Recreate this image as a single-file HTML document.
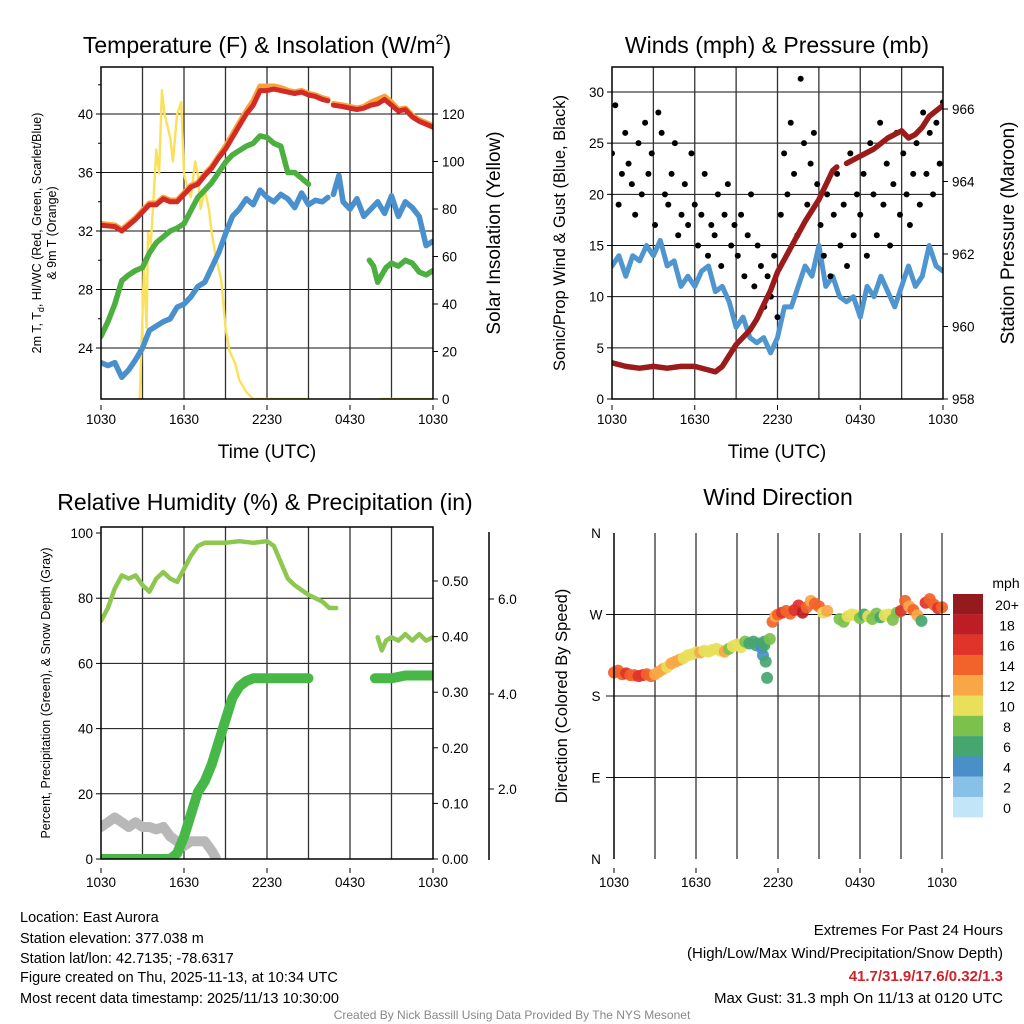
<!DOCTYPE html>
<html><head><meta charset="utf-8">
<style>
html,body{margin:0;padding:0;background:#fff;}
svg{display:block;font-family:"Liberation Sans",Arial,sans-serif;}
</style></head>
<body>
<svg id="c" width="1024" height="1024" viewBox="0 0 1024 1024">
<rect width="1024" height="1024" fill="#fff"/>
<g id="p1"></g>
<g id="p2"></g>
<g id="p3"></g>
<g id="p4"></g>

<text x="267" y="53" font-size="23" text-anchor="middle">Temperature (F) &amp; Insolation (W/m<tspan font-size="14" dy="-9">2</tspan><tspan dy="9">)</tspan></text>
<text x="777" y="53" font-size="23" text-anchor="middle">Winds (mph) &amp; Pressure (mb)</text>
<text x="265" y="510" font-size="23" text-anchor="middle">Relative Humidity (%) &amp; Precipitation (in)</text>
<text x="778" y="505" font-size="23" text-anchor="middle">Wind Direction</text>

<text x="267" y="458" font-size="19" text-anchor="middle">Time (UTC)</text>
<text x="777" y="458" font-size="19" text-anchor="middle">Time (UTC)</text>

<text transform="translate(41,233) rotate(-90)" font-size="12.5" text-anchor="middle">2m T, T<tspan font-size="9" dy="3">d</tspan><tspan dy="-3">, HI/WC (Red, Green, Scarlet/Blue)</tspan></text>
<text transform="translate(56,233) rotate(-90)" font-size="12.5" text-anchor="middle">&amp; 9m T (Orange)</text>
<text transform="translate(500,233) rotate(-90)" font-size="19" text-anchor="middle">Solar Insolation (Yellow)</text>
<text transform="translate(565,233) rotate(-90)" font-size="16.5" text-anchor="middle">Sonic/Prop Wind &amp; Gust (Blue, Black)</text>
<text transform="translate(1014,233) rotate(-90)" font-size="19" text-anchor="middle">Station Pressure (Maroon)</text>
<text transform="translate(50,693) rotate(-90)" font-size="12.5" text-anchor="middle">Percent, Precipitation (Green), &amp; Snow Depth (Gray)</text>
<text transform="translate(567,696) rotate(-90)" font-size="16.5" text-anchor="middle">Direction (Colored By Speed)</text>

<g font-size="14.5">
<text x="20" y="922">Location: East Aurora</text>
<text x="20" y="943">Station elevation: 377.038 m</text>
<text x="20" y="963">Station lat/lon: 42.7135; -78.6317</text>
<text x="20" y="982">Figure created on Thu, 2025-11-13, at 10:34 UTC</text>
<text x="20" y="1003">Most recent data timestamp: 2025/11/13 10:30:00</text>
</g>
<g font-size="15" text-anchor="end">
<text x="1003" y="935">Extremes For Past 24 Hours</text>
<text x="1003" y="958">(High/Low/Max Wind/Precipitation/Snow Depth)</text>
<text x="1003" y="981" fill="#d0232b" font-weight="bold">41.7/31.9/17.6/0.32/1.3</text>
<text x="1003" y="1003">Max Gust: 31.3 mph On 11/13 at 0120 UTC</text>
</g>
<text x="512" y="1019" font-size="12" fill="#888" text-anchor="middle">Created By Nick Bassill Using Data Provided By The NYS Mesonet</text>
</svg>
<script>
// ---------- data ----------
const timeLabels = ["1030","1630","2230","0430","1030"];
// Temperature panel
const tRed = [0,1,1.5,2,2.5,3,3.5,4,4.5,5,5.5,6,6.5,7,7.5,8,8.5,9,9.5,10,10.5,11,11.5,12,12.5,13,13.5,14,14.5,15,15.5,16,16.4,16.5,16.8,17.5,18,18.5,19,19.5,20,20.5,21,21.5,22,22.5,23,23.5,24];
const redT = [32.4,32.3,32.0,32.4,32.8,33.3,33.8,33.8,34.2,34.0,34.0,34.5,35.0,35.2,35.8,36.3,37.0,37.6,38.4,39.2,40.0,40.6,41.6,41.6,41.7,41.6,41.5,41.4,41.5,41.3,41.2,41.0,40.9,null,40.6,40.5,40.4,40.3,40.4,40.6,40.7,41.0,40.6,40.2,40.3,39.8,39.5,39.3,39.1];
const orangeT = [32.5,32.4,32.1,32.5,32.9,33.4,33.9,33.9,34.3,34.1,34.1,34.6,35.1,35.3,35.9,36.4,37.1,37.8,38.6,39.4,40.2,40.9,41.9,41.9,41.9,41.8,41.6,41.5,41.6,41.4,41.3,41.1,41.0,null,40.7,40.6,40.5,40.4,40.5,40.8,41.0,41.2,40.8,40.3,40.4,39.9,39.6,39.4,39.2];
const tGreen = [0,0.5,1,1.5,2,2.5,3,3.5,4,4.5,5,5.5,6,6.5,7,7.5,8,8.5,9,9.5,10,10.5,11,11.5,12,12.5,13,13.5,14,14.5,15,15.1,19.4,19.7,20,20.3,20.6,21,21.5,22,22.5,23,23.5,24];
const greenT = [24.8,25.8,27.0,28.6,29.0,29.3,29.5,30.5,31.2,31.6,32.0,32.2,32.5,33.4,34.3,34.8,35.3,36.0,36.7,37.2,37.5,37.8,38.0,38.5,38.4,38.0,37.8,36.0,36.0,35.6,35.2,null,30.0,29.6,28.5,29.0,29.5,29.8,29.6,30.0,29.8,29.2,29.0,29.3];
const tBlue = [0,0.5,1,1.5,2,2.5,3,3.5,4,4.5,5,5.5,6,6.5,7,7.5,8,8.5,9,9.5,10,10.5,11,11.5,12,12.5,13,13.5,14,14.5,15,15.5,16,16.4,16.6,16.8,17.2,17.5,18,18.5,19,19.5,20,20.5,21,21.5,22,22.5,23,23.5,24];
const blueT = [23.0,22.8,23.0,22.0,22.5,23.2,24.0,25.2,25.5,25.8,26.0,26.8,27.0,27.5,28.2,28.5,29.5,30.5,31.8,33.0,33.5,34.2,33.8,34.8,34.3,34.0,34.5,34.2,33.6,34.6,33.8,34.1,34.0,34.3,null,34.5,35.8,34.0,33.5,34.2,33.0,33.5,34.0,33.2,34.4,33.0,34.0,33.6,33.0,31.0,31.3];
const tSolar = [2.8,3.0,3.1,3.3,3.4,3.6,3.8,4.0,4.2,4.4,4.6,4.8,5.0,5.2,5.5,5.8,6.0,6.2,6.5,6.8,7.0,7.2,7.5,7.8,8.0,8.3,8.7,9.0,9.3,9.7,10,10.5,11,14.8,15,20.2,24];
const solarW = [0,35,55,30,70,65,85,105,95,130,120,115,110,100,120,125,95,90,85,100,95,80,88,80,70,60,50,30,20,15,8,3,0,0,null,0,0];
// Winds panel
const tWind = [0,0.5,1,1.5,2,2.5,3,3.5,4,4.5,5,5.5,6,6.5,7,7.5,8,8.5,9,9.5,10,10.5,11,11.5,12,12.5,13,13.5,14,14.5,15,15.5,16,16.5,17,17.5,18,18.5,19,19.5,20,20.5,21,21.5,22,22.5,23,23.5,24];
const windSpd = [13,14,12,14,13.5,15,14,15.5,13,13.5,11,12,11,12.5,13,10.5,11,9.5,7,8,6,5.5,6,4.5,6,9,9,11,13,12,15,11,12,10,9.5,10,8,11,10,12,10.5,9,11,13,11,12,15,13,12.5];
const gustVals = [24,28.7,19,22,26,23,21,18,25,20,27,22,24,17,28,26,20,19,22,25,16,18,21,17,24,19,15,18,22,14,17,16,20,13,18,21,15,17,14,18,12,16,20,11,15,13,9,12,10,14,8,18,24,20,27,22,16,31.3,25,19,23,26,21,17,14,20,12,18,22,15,19,13,24,16,20,18,22,14,25,20,16,27,19,23,15,21,26,18,24,20,17,22,25,19,28,22,26,20,27,23,29];
const gustStep = 0.24;
const tPres = [0,1,2,3,4,5,6,7,7.5,8,8.5,9,9.5,10,10.5,11,11.5,12,13,14,15,16,16.3,16.6,17,18,19,20,21,21.5,22,22.5,23,24];
const presMb = [959.0,958.9,958.85,958.9,958.85,958.9,958.9,958.8,958.75,958.9,959.2,959.5,959.7,959.9,960.2,960.6,961.0,961.5,962.2,962.9,963.5,964.3,964.4,null,964.5,964.7,964.9,965.2,965.4,965.2,965.3,965.5,965.8,966.1];
// Humidity panel
const tRH = [0,0.5,1,1.5,2,2.5,3,3.5,4,4.5,5,5.5,6,6.5,7,7.5,8,9,10,11,12,12.5,13,13.5,14,15,15.5,16,16.5,17,18,20,20.3,20.6,21,21.5,22,22.5,23,23.5,24];
const rhPct = [73,77,83,87,86,87,84,82,86,88,86,85,89,93,96,97,97,97,97.5,97,97.5,96,91,86,84,81,80,79,77,77,null,68,64,67,68,67,69,67,69,67,68];
const tPcp = [0,1,2,3,4,5,5.5,6,6.5,7,7.5,8,8.5,9,9.5,10,10.5,11,12,13,14,15,17,19.8,21,22,23,24];
const pcpIn = [0,0,0,0,0,0,0.01,0.04,0.08,0.12,0.14,0.17,0.21,0.25,0.29,0.31,0.32,0.325,0.325,0.325,0.325,0.325,null,0.325,0.325,0.33,0.33,0.33];
const tSnow = [0,0.5,1,1.5,2,2.5,3,3.5,4,4.5,5,5.5,6,6.5,7,7.5,8,8.3];
const snowIn = [1.2,1.3,1.4,1.3,1.2,1.3,1.2,1.2,1.15,1.2,1.0,0.9,0.8,0.9,0.9,0.9,0.7,0.55];
// Direction panel
const tDir = [0,0.3,0.6,0.9,1.2,1.5,1.8,2.1,2.4,2.7,3.0,3.3,3.6,3.9,4.2,4.5,4.8,5.1,5.4,5.7,6.0,6.3,6.6,6.9,7.2,7.5,7.8,8.1,8.4,8.7,9.0,9.3,9.6,9.9,10.2,10.4,10.6,10.8,10.9,11.0,11.0,11.1,11.2,11.4,11.6,11.8,12.0,12.3,12.6,12.9,13.2,13.5,13.8,14.1,14.4,14.7,15.0,15.3,15.6,16.5,16.8,17.1,17.4,17.7,18.0,18.3,18.6,18.9,19.2,19.5,19.8,20.1,20.4,20.7,21.0,21.3,21.6,21.9,22.2,22.5,22.8,23.1,23.4,23.7,24];
const dirDeg = [206,208,204,205,203,203,202,203,204,202,204,207,210,212,216,218,220,222,225,226,228,228,230,229,231,232,230,229,232,235,237,234,240,238,240,236,238,233,225,236,240,218,200,243,262,268,270,272,274,271,275,280,272,278,285,282,279,272,274,265,262,268,270,269,266,270,268,265,271,267,269,270,264,272,274,285,279,275,269,263,283,287,281,277,278];
const dirSpd = [14,15,15,16,14,15,17,16,15,14,13,12,13,11,12,12,13,11,10,10,11,12,10,10,11,10,10,12,9,11,10,10,8,7,6,6,7,5,4,7,6,7,7,8,14,13,15,16,14,15,17,16,18,14,13,14,15,11,13,9,8,10,11,10,9,7,10,8,9,7,10,11,9,8,16,14,12,15,13,7,16,15,14,17,14];
const speedColors = ['#c2e6f8','#87c1e7','#4990c8','#46a66f','#7cc14c','#e8e05a','#f9a746','#f26329','#e0332a','#bd1e25','#951a1d'];
const speedLabels = ['0','2','4','6','8','10','12','14','16','18','20+'];

// ---------- helpers ----------
const NS='http://www.w3.org/2000/svg';
function mk(parent, tag, attrs){const e=document.createElementNS(NS,tag);for(const k in attrs)e.setAttribute(k,attrs[k]);parent.appendChild(e);return e;}
function lin(d0,d1,r0,r1){return v=>r0+(v-d0)/(d1-d0)*(r1-r0);}
function pathD(ts,vs,xf,yf){let d='',pen=false;for(let i=0;i<ts.length;i++){if(vs[i]===null){pen=false;continue;}d+=(pen?'L':'M')+xf(ts[i]).toFixed(1)+','+yf(vs[i]).toFixed(1);pen=true;}return d;}
function frame(g,x0,y0,x1,y1){const r=mk(g,'rect',{x:x0,y:y0,width:x1-x0,height:y1-y0,fill:'none',stroke:'#000','stroke-width':1.5});}
function vgrid(g,xf,y0,y1){for(let h=3;h<24;h+=3){const l=mk(g,'line',{x1:xf(h),x2:xf(h),y1:y0,y2:y1,stroke:'#333','stroke-width':1.3});}}
function xticks(g,xf,y){timeLabels.forEach((lab,i)=>{const x=xf(i*6);const t=mk(g,'text',{x:x,y:y,'font-size':13.5,'text-anchor':'middle'});t.textContent=lab;mk(g,'line',{x1:x,x2:x,y1:y-19,y2:y-14,stroke:'#000'});});}
function yticks(g,vals,yf,x,side,fmt,fs){vals.forEach(v=>{const y=yf(v);mk(g,'line',{x1:x,x2:x+(side<0?-5:5),y1:y,y2:y,stroke:'#000'});const t=mk(g,'text',{x:x+(side<0?-8:9),y:y+5,'font-size':fs||13.5,'text-anchor':side<0?'end':'start'});t.textContent=fmt(v);});}
function series(g,ts,vs,xf,yf,color,w,name){const p=mk(g,'path',{d:pathD(ts,vs,xf,yf),fill:'none',stroke:color,'stroke-width':w,'stroke-linejoin':'round','stroke-linecap':'round'});return p;}
function clip(id,x0,y0,x1,y1){const defs=mk(document.getElementById('c'),'defs',{});const cp=mk(defs,'clipPath',{id:id});mk(cp,'rect',{x:x0,y:y0,width:x1-x0,height:y1-y0});}

// ---------- panel 1 ----------
(function(){const g=document.getElementById('p1');const X0=101,X1=433,Y0=67,Y1=399;
const xf=lin(0,24,X0,X1),yT=lin(24,40,348,114),yS=lin(0,120,399,114);
clip('c1',X0,Y0,X1,Y1);
[24,28,32,36,40].forEach(v=>mk(g,'line',{x1:X0,x2:X1,y1:yT(v),y2:yT(v),stroke:'#111'}));
vgrid(g,xf,Y0,Y1);
const d=mk(g,'g',{'clip-path':'url(#c1)'});
series(d,tSolar,solarW,xf,yS,'#fbe15a',2.4,'solar-insolation-line');
series(d,tBlue,blueT,xf,yT,'#4a90cc',5.5,'wind-chill-line');
series(d,tGreen,greenT,xf,yT,'#4caf3f',5.5,'dewpoint-line');
series(d,tRed,orangeT,xf,yT,'#f7a33c',5.5,'temp-9m-line');
series(d,tRed,redT,xf,yT,'#d42a25',5,'temp-2m-line');
frame(g,X0,Y0,X1,Y1);
yticks(g,[24,28,32,36,40],yT,X0,-1,v=>v);
[26,30,34,38,42].forEach(v=>mk(g,'line',{x1:X0,x2:X0-3,y1:yT(v),y2:yT(v),stroke:'#000'}));
yticks(g,[0,20,40,60,80,100,120],yS,X1,1,v=>v);
xticks(g,xf,424);})();

// ---------- panel 2 ----------
(function(){const g=document.getElementById('p2');const X0=612,X1=943,Y0=67,Y1=399;
const xf=lin(0,24,X0,X1),yW=lin(0,30,399,92),yP=lin(958,966,399,109);
clip('c2',X0,Y0,X1,Y1);
[5,10,15,20,25,30].forEach(v=>mk(g,'line',{x1:X0,x2:X1,y1:yW(v),y2:yW(v),stroke:'#111'}));
vgrid(g,xf,Y0,Y1);
const d=mk(g,'g',{'clip-path':'url(#c2)'});
series(d,tWind,windSpd,xf,yW,'#4f95d0',5,'sonic-wind-line');
gustVals.forEach((v,i)=>{const c=mk(d,'circle',{cx:xf(i*gustStep),cy:yW(v),r:3,fill:'#000'});});
series(d,tPres,presMb,xf,yP,'#9b1b1b',5.5,'pressure-line');
frame(g,X0,Y0,X1,Y1);
yticks(g,[0,5,10,15,20,25,30],yW,X0,-1,v=>v);
yticks(g,[958,960,962,964,966],yP,X1,1,v=>v);
xticks(g,xf,424);})();

// ---------- panel 3 ----------
(function(){const g=document.getElementById('p3');const X0=101,X1=433,Y0=527,Y1=859;
const xf=lin(0,24,X0,X1),yR=lin(0,100,859,533),yPc=lin(0,0.5,859,581),ySn=lin(2,6,789,599);
clip('c3',X0,Y0,X1,Y1);
[20,40,60,80].forEach(v=>mk(g,'line',{x1:X0,x2:X1,y1:yR(v),y2:yR(v),stroke:'#111'}));
vgrid(g,xf,Y0,Y1);
const d=mk(g,'g',{'clip-path':'url(#c3)'});
series(d,tSnow,snowIn,xf,ySn,'#b8b8b8',10,'snow-depth-line');
series(d,tRH,rhPct,xf,yR,'#8dc74f',4.5,'relative-humidity-line');
series(d,tPcp,pcpIn,xf,yPc,'#47b847',10,'precipitation-line');
frame(g,X0,Y0,X1,Y1);
yticks(g,[0,20,40,60,80,100],yR,X0,-1,v=>v);
yticks(g,[0,0.1,0.2,0.3,0.4,0.5],yPc,X1,1,v=>v.toFixed(2));
mk(g,'line',{x1:489,x2:489,y1:532,y2:860,stroke:'#000','stroke-width':1.5});
yticks(g,[2,4,6],ySn,489,1,v=>v.toFixed(1));
xticks(g,xf,887);})();

// ---------- panel 4 ----------
(function(){const g=document.getElementById('p4');const X0=614,X1=942,Y0=533,Y1=859;
const xf=lin(0,24,X0,X1),yD=lin(0,360,859,533);
[90,180,270].forEach(v=>mk(g,'line',{x1:X0-8,x2:X1+8,y1:yD(v),y2:yD(v),stroke:'#111'}));
vgrid(g,xf,Y0,Y1);
tDir.forEach((t,i)=>{const ci=Math.min(10,Math.floor(dirSpd[i]/2));const c=mk(g,'circle',{cx:xf(t),cy:yD(dirDeg[i]),r:6,fill:speedColors[ci],'fill-opacity':0.92});});
mk(g,'line',{x1:X0,x2:X0,y1:Y0,y2:Y1,stroke:'#000','stroke-width':1.5});
mk(g,'line',{x1:X1,x2:X1,y1:Y0,y2:Y1,stroke:'#000','stroke-width':1});
['N','E','S','W','N'].forEach((l,i)=>{const t=mk(g,'text',{x:X0-18,y:yD(i*90)+5,'font-size':13.5,'text-anchor':'middle'});t.textContent=l;});
xticks(g,xf,887);
// colorbar
const cb=mk(g,'g',{});
const tl=mk(cb,'text',{x:1006,y:588,'font-size':14,'text-anchor':'middle'});tl.textContent='mph';
for(let k=10;k>=0;k--){const y=594+(10-k)*20.3;const r=mk(cb,'rect',{x:953,y:y,width:30,height:20.4,fill:speedColors[k]});
const t=mk(cb,'text',{x:1007,y:y+16,'font-size':14,'text-anchor':'middle'});t.textContent=speedLabels[k];}
})();
</script>
</body></html>
